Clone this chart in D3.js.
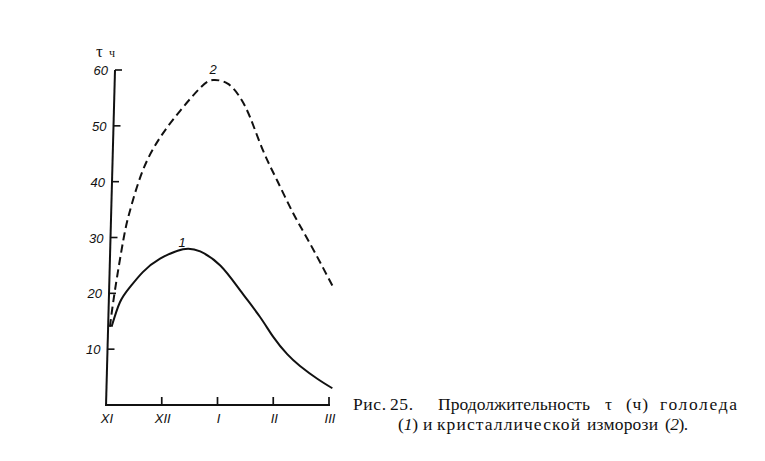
<!DOCTYPE html>
<html><head><meta charset="utf-8">
<script src="https://cdn.jsdelivr.net/npm/d3@7"></script>
<style>body{margin:0;background:#fff}svg{display:block}</style>
</head><body>
<svg id="c" width="765" height="461"></svg>
<script>
const months = ["XI","XII","I","II","III"];
const yTicks = [10,20,30,40,50,60];
// curve 1: glaze (solid) — [month index, hours]
const glazeM = [0.10,0.25,0.43,0.66,0.97,1.38,1.69,2.05,2.41,2.76,3.00,3.25,3.48,3.79,4.06];
const glazeV = [14,18.4,21.1,23.8,26.2,27.9,27.5,25,20.5,15.8,12.2,9.1,7.0,4.7,3.0];
// curve 2: crystalline rime (dashed)
const rimeM = [0.07,0.16,0.31,0.43,0.66,0.97,1.33,1.69,1.92,2.19,2.41,2.59,2.82,3.07,3.36,3.66,4.06];
const rimeV = [14,20.5,29.5,34.8,42,47.9,52.7,56.8,58.2,57.5,55,51.4,45.5,40.2,34.3,28.9,21.4];
// caption words
const cap1 = ["Рис.","25.","Продолжительность","τ","(ч)","гололеда"];
const cap2 = ["(1)","и","кристаллической","изморози","(2)."];

const svg = d3.select("#c");
const x = d3.scaleLinear().domain([0,4]).range([106,329]);
const y = d3.scaleLinear().domain([0,60]).range([405,70]);
const ink = "#111";
const slant = 9/335;                       // printed y axis leans right
const ax = v => x(0) + (y(0) - y(v)) * slant;
const sans = "Liberation Sans, Arial, sans-serif";

// x axis
svg.append("path").attr("d",`M${x(0)},${y(0)}H${x(4)+1}`)
  .attr("stroke",ink).attr("stroke-width",2).attr("fill","none");
svg.append("g").selectAll("path").data([1,2,3,4]).join("path")
  .attr("d",d=>`M${x(d)},${y(0)}V${y(0)-8}`)
  .attr("stroke",ink).attr("stroke-width",1.7).attr("fill","none");
svg.append("g").selectAll("text").data([0,1,2,3,4]).join("text")
  .attr("x",d=>x(d)+1).attr("y",y(0)+18).attr("text-anchor","middle")
  .attr("font-family",sans).attr("font-style","italic").attr("font-size",13).attr("fill",ink)
  .text(d=>months[d]);

// y axis
svg.append("path").attr("d",`M${ax(0)},${y(0)+1}L${ax(60)},${y(60)}`)
  .attr("stroke",ink).attr("stroke-width",2).attr("fill","none");
svg.append("g").selectAll("path").data(yTicks).join("path")
  .attr("d",d=>`M${ax(d)},${y(d)}h7`)
  .attr("stroke",ink).attr("stroke-width",1.6).attr("fill","none");
svg.append("g").selectAll("text").data(yTicks).join("text")
  .attr("x",d=>ax(d)-7).attr("y",d=>y(d)+5).attr("text-anchor","end")
  .attr("font-family",sans).attr("font-style","italic").attr("font-size",13).attr("fill",ink)
  .text(d=>d);

// axis title
svg.append("text").attr("x",96).attr("y",57).attr("font-family","Liberation Serif, serif")
  .attr("font-size",17).attr("fill",ink).text("τ");
svg.append("text").attr("x",109).attr("y",57).attr("font-family","Liberation Serif, serif")
  .attr("font-size",12).attr("fill",ink).text("ч");

const line = d3.line().x(d=>x(d[0])).y(d=>y(d[1])).curve(d3.curveNatural);
svg.append("path").datum(glazeM.map((m,i)=>[m,glazeV[i]])).attr("d",line)
  .attr("fill","none").attr("stroke",ink).attr("stroke-width",2);
svg.append("path").datum(rimeM.map((m,i)=>[m,rimeV[i]])).attr("d",line)
  .attr("fill","none").attr("stroke",ink).attr("stroke-width",2).attr("stroke-dasharray","8,4.5");

// curve labels
svg.append("text").attr("x",182).attr("y",247).attr("text-anchor","middle")
  .attr("font-family",sans).attr("font-style","italic").attr("font-size",13).attr("fill",ink).text("1");
svg.append("text").attr("x",213).attr("y",74).attr("text-anchor","middle")
  .attr("font-family",sans).attr("font-style","italic").attr("font-size",13).attr("fill",ink).text("2");

// caption, word by word: [start x, width]
const cap = svg.append("g").attr("font-family","Liberation Serif, serif").attr("font-size",17.5).attr("fill",ink);
const pos1 = [[353,33],[390,23],[438,152],[605,null],[626,22],[660,77]], y1 = 410;
const pos2 = [[398,20],[423,null],[437,143],[587,71],[665,23]], y2 = 430;
function word(t, p, yy){
  const el = cap.append("text").attr("x",p[0]).attr("y",yy);
  if (p[1]) el.attr("textLength",p[1]).attr("lengthAdjust","spacing");
  const m = t.match(/^\((\d)\)(.*)$/);
  if (m){ el.append("tspan").text("("); el.append("tspan").attr("font-style","italic").text(m[1]); el.append("tspan").text(")"+m[2]); }
  else el.text(t);
}
cap1.forEach((t,i)=>word(t,pos1[i],y1));
cap2.forEach((t,i)=>word(t,pos2[i],y2));
</script>
</body></html>
